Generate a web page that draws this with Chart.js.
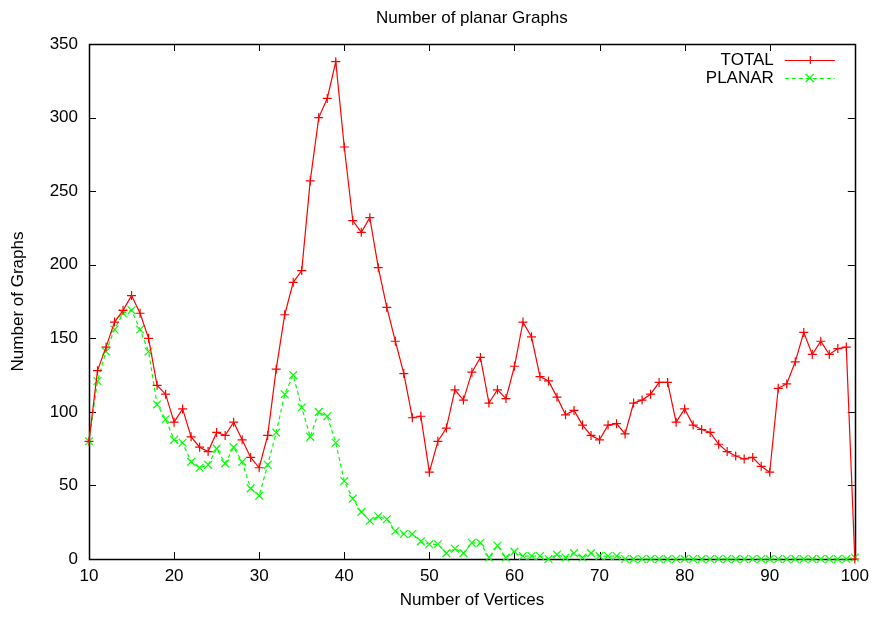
<!DOCTYPE html>
<html>
<head>
<meta charset="utf-8">
<script src="https://cdn.jsdelivr.net/npm/chart.js@4/dist/chart.umd.min.js"></script>
<style>
  body { margin: 0; background: #fff; }
  #wrap { width: 876px; height: 617px; }
</style>
</head>
<body>
<div id="wrap"><canvas id="grafico" width="876" height="617"></canvas></div>
<script>
const vertices = [10, 11, 12, 13, 14, 15, 16, 17, 18, 19,
    20, 21, 22, 23, 24, 25, 26, 27, 28, 29,
    30, 31, 32, 33, 34, 35, 36, 37, 38, 39,
    40, 41, 42, 43, 44, 45, 46, 47, 48, 49,
    50, 51, 52, 53, 54, 55, 56, 57, 58, 59,
    60, 61, 62, 63, 64, 65, 66, 67, 68, 69,
    70, 71, 72, 73, 74, 75, 76, 77, 78, 79,
    80, 81, 82, 83, 84, 85, 86, 87, 88, 89,
    90, 91, 92, 93, 94, 95, 96, 97, 98, 99, 100];

const total = [80, 128, 144, 161, 169, 179, 167, 150, 118, 112,
    93, 102, 83, 76, 73, 86, 84, 93, 81, 69,
    62, 84, 129, 166, 188, 196, 257, 300, 313, 338,
    280, 230, 222, 232, 198, 171, 148, 126, 96, 97,
    59, 80, 89, 115, 108, 127, 137, 106, 115, 109,
    131, 161, 151, 124, 121, 110, 98, 101, 91, 84,
    81, 91, 92, 85, 106, 108, 112, 120, 120, 93,
    102, 91, 88, 86, 78, 73, 70, 68, 69, 63,
    59, 116, 119, 134, 154, 139, 148, 139, 143, 144, 0];

const planar = [80, 121, 141, 156, 167, 169, 156, 141, 105, 95,
    81, 79, 66, 62, 64, 75, 65, 76, 66, 48,
    43, 64, 86, 112, 125, 103, 83, 100, 97, 79,
    53, 41, 32, 26, 29, 27, 19, 17, 17, 12,
    10, 10, 4, 7, 4, 11, 11, 1, 9, 1,
    5, 2, 2, 2, 0, 3, 1, 4, 1, 4,
    2, 2, 2, 0, 0, 0, 0, 0, 0, 0,
    0, 0, 0, 0, 0, 0, 0, 0, 0, 0,
    0, 0, 0, 0, 0, 0, 0, 0, 0, 0, 1];

const xTicks = [10, 20, 30, 40, 50, 60, 70, 80, 90, 100];
const yTicks = [0, 50, 100, 150, 200, 250, 300, 350];

const fonte = "'Liberation Sans', Arial, Helvetica, sans-serif";

function pontos(valores) {
    return vertices.map((v, i) => ({ x: v, y: valores[i] }));
}

// moldura estilo gnuplot: caixa fechada e ticks para dentro em todos os lados
const moldura = {
    id: 'moldura',
    beforeDatasetsDraw(chart) {
        const { ctx, chartArea: a, scales: { x, y } } = chart;
        const t = 7;
        ctx.save();
        ctx.strokeStyle = '#000';
        ctx.lineWidth = 1;
        ctx.beginPath();
        xTicks.forEach(v => {
            const px = Math.round(x.getPixelForValue(v)) + 0.5;
            ctx.moveTo(px, a.bottom); ctx.lineTo(px, a.bottom - t);
            ctx.moveTo(px, a.top); ctx.lineTo(px, a.top + t);
        });
        yTicks.forEach(v => {
            const py = Math.round(y.getPixelForValue(v)) + 0.5;
            ctx.moveTo(a.left, py); ctx.lineTo(a.left + t, py);
            ctx.moveTo(a.right, py); ctx.lineTo(a.right - t, py);
        });
        ctx.stroke();
        ctx.lineWidth = 1.5;
        ctx.strokeRect(Math.round(a.left) + 0.5, Math.round(a.top) + 0.5,
            Math.round(a.right - a.left), Math.round(a.bottom - a.top));
        ctx.restore();
    },
    afterDraw(chart) {
        // legenda no canto superior direito: texto à esquerda, amostra à direita
        const { ctx, chartArea: a } = chart;
        ctx.save();
        ctx.font = '17px ' + fonte;
        ctx.textAlign = 'right';
        ctx.textBaseline = 'middle';
        chart.data.datasets.forEach((ds, i) => {
            const yy = a.top + 16 + i * 18;
            const x0 = a.right - 70, x1 = a.right - 20, xm = (x0 + x1) / 2;
            ctx.fillStyle = '#000';
            ctx.fillText(ds.label, a.right - 81, yy);
            ctx.strokeStyle = ds.borderColor;
            ctx.lineWidth = 1.2;
            ctx.setLineDash(ds.borderDash || []);
            ctx.beginPath();
            ctx.moveTo(x0, yy + 0.5); ctx.lineTo(x1, yy + 0.5);
            ctx.stroke();
            ctx.setLineDash([]);
            ctx.beginPath();
            if (ds.pointStyle === 'cross') {
                ctx.moveTo(xm - 4, yy + 0.5); ctx.lineTo(xm + 4, yy + 0.5);
                ctx.moveTo(xm + 0.5, yy - 4); ctx.lineTo(xm + 0.5, yy + 4);
            } else {
                ctx.moveTo(xm - 4, yy - 4); ctx.lineTo(xm + 4, yy + 4);
                ctx.moveTo(xm - 4, yy + 4); ctx.lineTo(xm + 4, yy - 4);
            }
            ctx.stroke();
        });
        ctx.restore();
    }
};

const ctx = document.getElementById('grafico').getContext('2d');

new Chart(ctx, {
    type: 'line',
    data: {
        datasets: [
            {
                label: 'TOTAL',
                data: pontos(total),
                borderColor: '#ff0000',
                backgroundColor: '#ff0000',
                borderWidth: 1.2,
                pointStyle: 'cross',
                pointRadius: 4.5,
                pointBorderWidth: 1.2,
                tension: 0,
                fill: false,
                clip: false
            },
            {
                label: 'PLANAR',
                data: pontos(planar),
                borderColor: '#00ff00',
                backgroundColor: '#00ff00',
                borderWidth: 1.2,
                borderDash: [4, 3],
                pointStyle: 'crossRot',
                pointRadius: 5.5,
                pointBorderWidth: 1.2,
                tension: 0,
                fill: false,
                clip: false
            }
        ]
    },
    options: {
        responsive: false,
        animation: false,
        devicePixelRatio: 1,
        layout: { padding: { left: 0, right: 17, top: 0, bottom: 0 } },
        plugins: {
            legend: { display: false },
            tooltip: { enabled: false },
            title: {
                display: true,
                text: 'Number of planar Graphs',
                fullSize: false,
                color: '#000',
                font: { family: fonte, size: 17, weight: 'normal' },
                padding: { top: 8, bottom: 15.6 }
            }
        },
        scales: {
            x: {
                type: 'linear',
                min: 10,
                max: 100,
                afterFit: s => { s.height = 58; },
                afterBuildTicks: s => { s.ticks = xTicks.map(v => ({ value: v })); },
                grid: { display: false, drawTicks: false },
                border: { display: false },
                ticks: {
                    color: '#000',
                    padding: 7,
                    maxRotation: 0,
                    font: { family: fonte, size: 17 }
                },
                title: {
                    display: true,
                    text: 'Number of Vertices',
                    color: '#000',
                    font: { family: fonte, size: 17 },
                    padding: { top: 0, bottom: 6 }
                }
            },
            y: {
                min: 0,
                max: 350,
                afterFit: s => { s.width = 89; },
                afterBuildTicks: s => { s.ticks = yTicks.map(v => ({ value: v })); },
                grid: { display: false, drawTicks: false },
                border: { display: false },
                ticks: {
                    color: '#000',
                    padding: 11,
                    font: { family: fonte, size: 17 }
                },
                title: {
                    display: true,
                    text: 'Number of Graphs',
                    color: '#000',
                    font: { family: fonte, size: 17 },
                    padding: { top: 8, bottom: 0 }
                }
            }
        }
    },
    plugins: [moldura]
});
</script>
</body>
</html>
